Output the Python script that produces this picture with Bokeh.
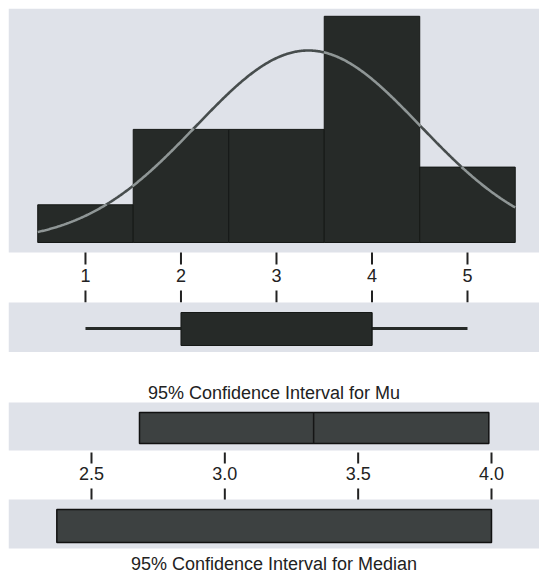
import numpy as np
from bokeh.plotting import figure
from bokeh.models import Range1d
from bokeh.layouts import column
from bokeh.embed import file_html
from bokeh.resources import INLINE
from bokeh.core.properties import value

# ---------------- data ----------------
bin_centers = [1, 2, 3, 4, 5]
bin_counts = [1, 3, 3, 6, 2]
bin_width = 1.0

hist_ticks = [1, 2, 3, 4, 5]
hist_tick_labels = ["1", "2", "3", "4", "5"]

box_min = 1.0
box_q1 = 2.0
box_median = 4.0
box_q3 = 4.0
box_max = 5.0

fit_mean = 3.333
fit_stdev = 1.175

mu_ci = [2.68, 3.99]
median_ci = [2.37, 4.00]

ci_ticks = [2.5, 3.0, 3.5, 4.0]
ci_tick_labels = ["2.5", "3.0", "3.5", "4.0"]

mu_title = "95% Confidence Interval for Mu"
median_title = "95% Confidence Interval for Median"

# ---------------- styles ----------------
PANEL_BG = "#dfe2e9"
BAR_COLOR = "#262a28"
CURVE_OUT = "#474d4d"
CURVE_IN = "#8f9696"
INK = "#222222"
FONT = value("Liberation Sans")
FSIZE = "18px"
W = 539

def base_fig(h, xr, yr, top):
    p = figure(width=W, height=h, x_range=xr, y_range=yr,
               output_backend="svg", toolbar_location=None,
               x_axis_location=None, y_axis_location=None,
               min_border=0, min_border_left=8, min_border_right=0,
               min_border_top=top, min_border_bottom=0)
    p.outline_line_color = None
    p.xgrid.visible = False
    p.ygrid.visible = False
    p.background_fill_color = "white"
    p.border_fill_color = "white"
    return p

# ================= top figure: histogram + boxplot =================
xa = Range1d(0.194, 5.754)
ya = Range1d(-2.918, 6.207)          # counts
p1 = base_fig(352, xa, ya, 8)
p1.extra_y_ranges = {"lay": Range1d(0, 344)}   # layout units for the box strip

# histogram panel background
p1.quad(left=[xa.start], right=[xa.end], bottom=[-0.265], top=[ya.end],
        fill_color=PANEL_BG, line_color=None)

lefts = [c - bin_width / 2 for c in bin_centers]
rights = [c + bin_width / 2 for c in bin_centers]
p1.quad(left=lefts, right=rights, bottom=[0] * len(bin_counts), top=bin_counts,
        fill_color=BAR_COLOR, line_color="#151816", line_width=1)

# fitted normal curve
n_obs = sum(bin_counts)
xs = np.linspace(lefts[0], rights[-1], 500)
ys = n_obs * bin_width * np.exp(-0.5 * ((xs - fit_mean) / fit_stdev) ** 2) / (fit_stdev * np.sqrt(2 * np.pi))
idx = np.clip(np.floor(xs - lefts[0]).astype(int), 0, len(bin_counts) - 1)
heights = np.array(bin_counts, dtype=float)[idx]
inside = ys <= heights
in_m = inside | np.roll(inside, 1) | np.roll(inside, -1)
out_m = (~inside) | np.roll(~inside, 1) | np.roll(~inside, -1)
y_in = np.where(in_m, ys, np.nan)
y_out = np.where(out_m, ys, np.nan)
p1.line(xs, y_out, line_color=CURVE_OUT, line_width=2.6)
p1.line(xs, y_in, line_color=CURVE_IN, line_width=2.6)

# tick strip (ticks above and below the labels)
p1.segment(x0=hist_ticks, x1=hist_ticks, y0=[100] * 5, y1=[88] * 5,
           line_color=INK, line_width=2, y_range_name="lay")
p1.segment(x0=hist_ticks, x1=hist_ticks, y0=[62] * 5, y1=[50] * 5,
           line_color=INK, line_width=2, y_range_name="lay")
p1.text(x=hist_ticks, y=[77] * 5, text=hist_tick_labels, text_font=FONT,
        text_font_size=FSIZE, text_align="center", text_baseline="middle",
        text_color=INK, y_range_name="lay")

# boxplot panel
p1.quad(left=[xa.start], right=[xa.end], bottom=[0], top=[50],
        fill_color=PANEL_BG, line_color=None, y_range_name="lay")
p1.segment(x0=[box_min, box_q3], x1=[box_q1, box_max], y0=[24, 24], y1=[24, 24],
           line_color=BAR_COLOR, line_width=3, y_range_name="lay")
p1.quad(left=[box_q1], right=[box_q3], bottom=[7], top=[40],
        fill_color=BAR_COLOR, line_color="#151816", line_width=1, y_range_name="lay")
p1.segment(x0=[box_median], x1=[box_median], y0=[7], y1=[40],
           line_color="#151816", line_width=1, y_range_name="lay")

# ================= bottom figure: confidence intervals =================
xb = Range1d(2.1888, 4.18)
yb = Range1d(0, 222)                 # layout units
p2 = base_fig(222, xb, yb, 0)
xmid = (xb.start + xb.end) / 2

p2.text(x=[xmid], y=[182], text=[mu_title], text_font=FONT, text_font_size=FSIZE,
        text_align="center", text_baseline="middle", text_color=INK)

# Mu panel
p2.quad(left=[xb.start], right=[xb.end], bottom=[124], top=[172],
        fill_color=PANEL_BG, line_color=None)
p2.quad(left=[mu_ci[0]], right=[mu_ci[1]], bottom=[131], top=[162],
        fill_color="#3d4141", line_color="#111111", line_width=1.5)
p2.segment(x0=[fit_mean], x1=[fit_mean], y0=[131], y1=[162],
           line_color="#151515", line_width=1.5)

# tick strip
k = len(ci_ticks)
p2.segment(x0=ci_ticks, x1=ci_ticks, y0=[122] * k, y1=[111] * k,
           line_color=INK, line_width=2)
p2.segment(x0=ci_ticks, x1=ci_ticks, y0=[86] * k, y1=[74] * k,
           line_color=INK, line_width=2)
p2.text(x=ci_ticks, y=[101] * k, text=ci_tick_labels, text_font=FONT,
        text_font_size=FSIZE, text_align="center", text_baseline="middle",
        text_color=INK)

# Median panel
p2.quad(left=[xb.start], right=[xb.end], bottom=[26], top=[75],
        fill_color=PANEL_BG, line_color=None)
p2.quad(left=[median_ci[0]], right=[median_ci[1]], bottom=[32], top=[65],
        fill_color="#3d4141", line_color="#111111", line_width=1.5)

p2.text(x=[xmid], y=[11], text=[median_title], text_font=FONT, text_font_size=FSIZE,
        text_align="center", text_baseline="middle", text_color=INK)

layout = column(p1, p2, spacing=0)
open("out.html", "w").write(file_html(layout, INLINE))
